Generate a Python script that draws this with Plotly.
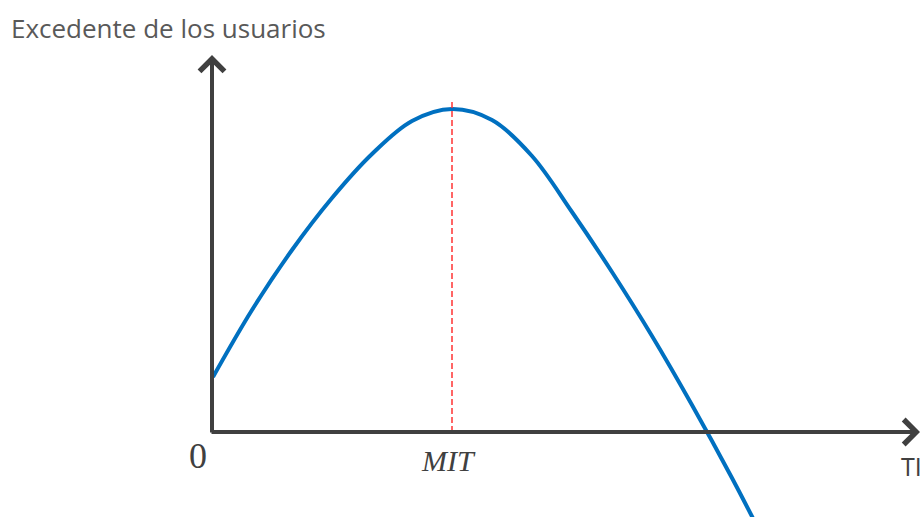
import plotly.graph_objects as go

# Data (arbitrary units, origin at axes intersection)
TI = [1, 40, 80, 120, 160, 200, 240, 280, 320, 360, 400, 440, 480, 520, 550]
excedente = [55, 122, 182, 234, 278, 311, 323, 312, 276, 220, 160, 96, 27, -46, -104]
MIT = 240
MIT_top = 332

x_range = [-212, 709]
y_range = [-85, 432]

fig = go.Figure()
fig.add_trace(go.Scatter(x=TI, y=excedente, mode="lines",
                         line=dict(color="#0070C0", width=4, shape="spline", smoothing=1.0),
                         hoverinfo="skip"))

fig.add_shape(type="line", x0=MIT, x1=MIT, y0=0, y1=MIT_top,
              line=dict(color="#FF3333", width=1.5, dash="6px,3px"))

axis_col = "#404040"
fig.add_annotation(x=0, y=377, ax=0, ay=-2, xref="x", yref="y", axref="x", ayref="y", text="",
                   showarrow=True, arrowhead=4, arrowsize=1.2, arrowwidth=4, arrowcolor=axis_col)
fig.add_annotation(x=708, y=0, ax=-2, ay=0, xref="x", yref="y", axref="x", ayref="y", text="",
                   showarrow=True, arrowhead=4, arrowsize=1.2, arrowwidth=4, arrowcolor=axis_col)

fig.add_annotation(x=-203, y=404, xref="x", yref="y", text="Excedente de los usuarios", showarrow=False,
                   xanchor="left", yanchor="middle", font=dict(family="Open Sans", size=26, color="#595959"))
fig.add_annotation(x=-14, y=-24, xref="x", yref="y", text="0", showarrow=False,
                   xanchor="center", yanchor="middle", font=dict(family="Liberation Serif", size=36, color="#404040"))
fig.add_annotation(x=236, y=-28, xref="x", yref="y", text="<i>MIT</i>", showarrow=False,
                   xanchor="center", yanchor="middle", font=dict(family="Liberation Serif", size=30, color="#404040"))
fig.add_annotation(x=687, y=-34, xref="x", yref="y", text="TI", showarrow=False,
                   xanchor="left", yanchor="middle", font=dict(family="Open Sans", size=25, color="#404040"))

fig.update_layout(width=921, height=517, margin=dict(l=0, r=0, t=0, b=0),
                  paper_bgcolor="white", plot_bgcolor="white", showlegend=False,
                  xaxis=dict(range=x_range, visible=False, fixedrange=True),
                  yaxis=dict(range=y_range, visible=False, fixedrange=True))

fig.write_html("out.html", config={"displayModeBar": False},
               post_script="document.body.style.margin='0';document.body.style.overflow='hidden';")
